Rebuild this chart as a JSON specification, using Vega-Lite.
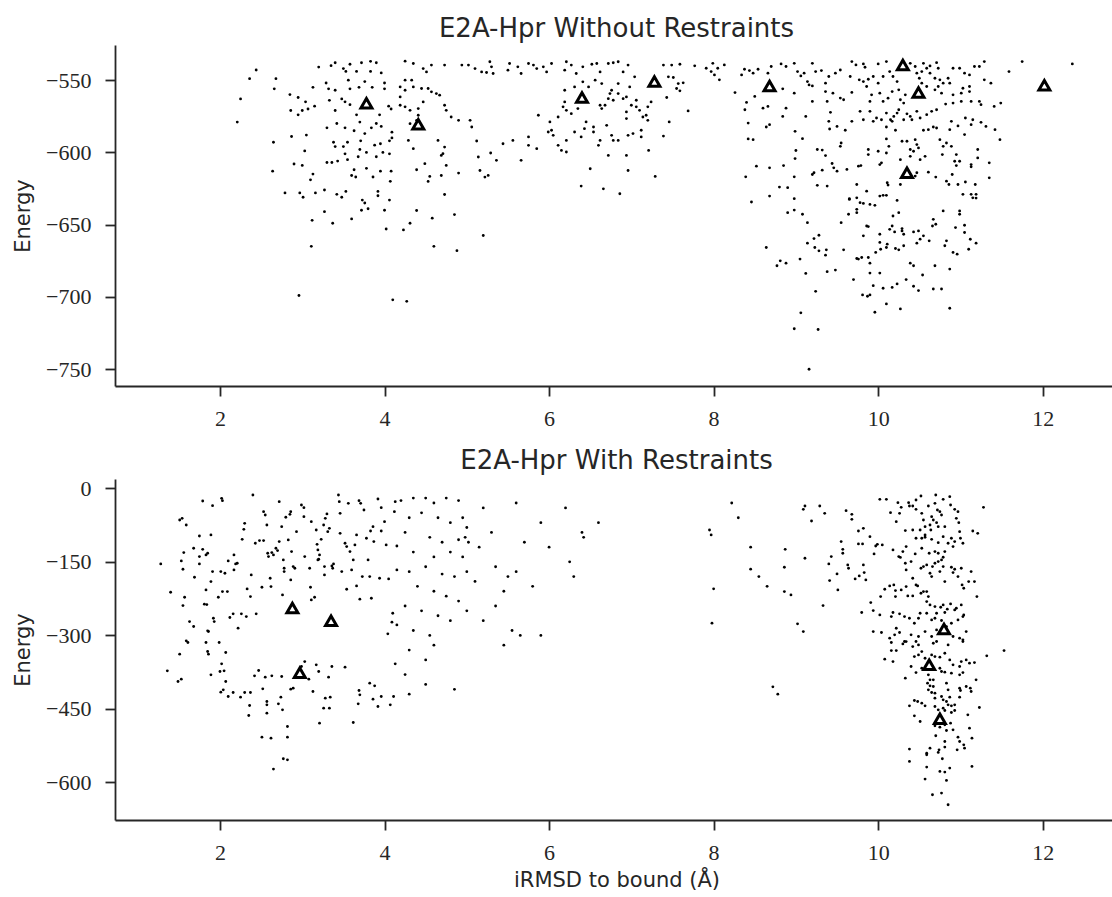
{
"$schema": "https://vega.github.io/schema/vega-lite/v6.json",
"background": "white",
"padding": {"left": 12, "top": 16, "right": 0, "bottom": 0},
"config": {
 "view": {"stroke": null},
 "axis": {"grid": false, "domainColor": "#262626", "domainWidth": 1.8, "tickColor": "#262626", "tickWidth": 1.8, "tickSize": 10, "labelFont": "Liberation Serif", "labelFontSize": 22, "labelColor": "#262626", "labelPadding": 14, "titleFont": "DejaVu Sans", "titleFontSize": 21, "titleFontWeight": "normal", "titleColor": "#262626", "titlePadding": 12},
 "axisX": {"labelPadding": 12, "format": "d"},
 "title": {"font": "DejaVu Sans", "fontSize": 26, "fontWeight": "normal", "color": "#262626", "anchor": "middle", "frame": "group", "offset": 3}
},
"spacing": 19,
"datasets": {
"a": [
{"x":2.44,"y":-543},{"x":2.36,"y":-549},{"x":2.25,"y":-563},{"x":2.21,"y":-579},{"x":2.68,"y":-549},{"x":2.66,"y":-556},{"x":2.85,"y":-560},{"x":2.95,"y":-562},{"x":3.04,"y":-565},{"x":2.86,"y":-571},{"x":2.95,"y":-574},{"x":3.0,"y":-571},{"x":3.07,"y":-570},{"x":3.15,"y":-568},{"x":3.13,"y":-555},{"x":3.20,"y":-541},{"x":3.35,"y":-540},{"x":3.40,"y":-538},{"x":3.50,"y":-542},{"x":3.58,"y":-539},{"x":3.72,"y":-538},{"x":3.83,"y":-537},{"x":3.90,"y":-538},{"x":3.53,"y":-544},{"x":3.66,"y":-544},{"x":3.83,"y":-544},{"x":3.96,"y":-545},{"x":3.29,"y":-552},{"x":3.32,"y":-556},{"x":3.40,"y":-557},{"x":3.56,"y":-550},{"x":3.76,"y":-551},{"x":3.58,"y":-556},{"x":3.69,"y":-555},{"x":4.0,"y":-552},{"x":4.0,"y":-556},{"x":3.85,"y":-555},{"x":3.33,"y":-564},{"x":3.48,"y":-563},{"x":3.52,"y":-565},{"x":3.58,"y":-567},{"x":3.40,"y":-571},{"x":3.66,"y":-574},{"x":3.94,"y":-574},{"x":4.05,"y":-568},{"x":4.08,"y":-570},{"x":3.70,"y":-579},{"x":3.42,"y":-580},{"x":3.30,"y":-583},{"x":3.52,"y":-583},{"x":3.63,"y":-585},{"x":3.84,"y":-583},{"x":3.90,"y":-580},{"x":3.96,"y":-582},{"x":3.76,"y":-587},{"x":4.09,"y":-586},{"x":2.87,"y":-589},{"x":3.05,"y":-588},{"x":3.38,"y":-593},{"x":3.55,"y":-593},{"x":3.71,"y":-592},{"x":4.06,"y":-592},{"x":4.09,"y":-590},{"x":2.65,"y":-593},{"x":3.40,"y":-596},{"x":3.50,"y":-596},{"x":3.88,"y":-595},{"x":3.95,"y":-594},{"x":3.03,"y":-599},{"x":3.52,"y":-601},{"x":3.70,"y":-598},{"x":3.78,"y":-600},{"x":3.98,"y":-600},{"x":4.06,"y":-601},{"x":3.55,"y":-605},{"x":3.68,"y":-603},{"x":3.90,"y":-603},{"x":3.36,"y":-607},{"x":3.30,"y":-607},{"x":2.90,"y":-608},{"x":3.0,"y":-609},{"x":3.43,"y":-606},{"x":3.63,"y":-612},{"x":3.78,"y":-611},{"x":3.95,"y":-613},{"x":3.86,"y":-617},{"x":2.64,"y":-613},{"x":3.13,"y":-615},{"x":3.60,"y":-616},{"x":3.65,"y":-617},{"x":3.10,"y":-619},{"x":4.08,"y":-613},{"x":4.07,"y":-620},{"x":2.79,"y":-628},{"x":2.97,"y":-628},{"x":3.01,"y":-631},{"x":3.16,"y":-628},{"x":3.27,"y":-626},{"x":3.42,"y":-629},{"x":3.53,"y":-627},{"x":3.48,"y":-631},{"x":3.73,"y":-633},{"x":3.76,"y":-635},{"x":3.92,"y":-627},{"x":3.92,"y":-630},{"x":4.06,"y":-633},{"x":4.0,"y":-640},{"x":3.72,"y":-640},{"x":3.80,"y":-639},{"x":3.27,"y":-641},{"x":3.12,"y":-647},{"x":3.37,"y":-649},{"x":3.60,"y":-646},{"x":4.02,"y":-653},{"x":3.11,"y":-665},{"x":2.96,"y":-699},{"x":4.10,"y":-702},{"x":4.27,"y":-703},
{"x":4.25,"y":-536.9},{"x":4.35,"y":-538.5},{"x":4.47,"y":-542},{"x":4.51,"y":-544.3},{"x":4.57,"y":-539.6},{"x":4.73,"y":-539.6},{"x":4.94,"y":-539.6},{"x":5.02,"y":-539.6},{"x":5.10,"y":-542},{"x":5.28,"y":-537.3},{"x":5.30,"y":-540.8},{"x":5.32,"y":-545.4},{"x":5.18,"y":-544.3},{"x":5.24,"y":-544.7},{"x":5.52,"y":-538.5},{"x":5.50,"y":-543.1},{"x":5.62,"y":-540.8},{"x":5.66,"y":-545.4},{"x":5.75,"y":-538.5},{"x":5.81,"y":-539.6},{"x":5.85,"y":-542},{"x":5.93,"y":-540.8},{"x":5.97,"y":-544.3},{"x":6.03,"y":-538.5},{"x":6.19,"y":-543.1},{"x":6.21,"y":-537.3},{"x":6.27,"y":-539.6},{"x":6.33,"y":-545.4},{"x":6.41,"y":-540.8},{"x":6.52,"y":-539},{"x":6.58,"y":-538.5},{"x":6.62,"y":-544.3},{"x":6.72,"y":-538.5},{"x":6.78,"y":-538},{"x":6.84,"y":-537.3},{"x":6.90,"y":-544.3},{"x":6.96,"y":-539.6},{"x":7.04,"y":-547.7},{"x":7.39,"y":-539.6},{"x":7.49,"y":-539.6},{"x":7.59,"y":-539},{"x":7.77,"y":-540.1},{"x":7.45,"y":-547.7},{"x":7.51,"y":-548.2},{"x":7.57,"y":-552.4},{"x":7.63,"y":-551.9},{"x":7.55,"y":-555.8},{"x":7.59,"y":-557.4},{"x":7.43,"y":-562},{"x":7.69,"y":-571.3},{"x":7.46,"y":-578.9},{"x":7.39,"y":-588.7},{"x":7.29,"y":-616.6},{"x":7.21,"y":-598.6},{"x":7.12,"y":-584.7},{"x":7.12,"y":-589.3},{"x":7.02,"y":-587},{"x":6.96,"y":-588.2},{"x":6.94,"y":-602.1},{"x":6.96,"y":-612.5},{"x":6.84,"y":-591.7},{"x":6.78,"y":-591.7},{"x":6.76,"y":-588.2},{"x":6.70,"y":-581.3},{"x":6.62,"y":-591.7},{"x":6.60,"y":-595.1},{"x":6.72,"y":-602.1},{"x":6.66,"y":-625.2},{"x":6.86,"y":-628.6},{"x":6.50,"y":-611.3},{"x":6.39,"y":-623.3},{"x":6.62,"y":-567.4},{"x":6.64,"y":-569.7},{"x":6.68,"y":-567.4},{"x":6.72,"y":-562.8},{"x":6.78,"y":-563.9},{"x":6.74,"y":-559.3},{"x":6.84,"y":-559.3},{"x":6.90,"y":-562.8},{"x":6.94,"y":-561.6},{"x":7.0,"y":-567.4},{"x":7.06,"y":-568.5},{"x":7.10,"y":-570.9},{"x":6.94,"y":-572},{"x":6.94,"y":-576.6},{"x":7.14,"y":-575.5},{"x":7.18,"y":-574.3},{"x":7.20,"y":-577.8},{"x":7.20,"y":-568.5},{"x":7.24,"y":-565.1},{"x":7.06,"y":-563.9},{"x":6.98,"y":-554.7},{"x":6.84,"y":-552.4},{"x":6.76,"y":-557},{"x":6.64,"y":-552.4},{"x":6.56,"y":-550},{"x":6.48,"y":-554.7},{"x":6.41,"y":-551.2},{"x":6.31,"y":-554.7},{"x":6.19,"y":-557},{"x":6.19,"y":-565.1},{"x":6.17,"y":-568.5},{"x":6.21,"y":-570.9},{"x":6.27,"y":-573.2},{"x":6.35,"y":-569.7},{"x":6.11,"y":-575.5},{"x":6.01,"y":-578.9},{"x":6.03,"y":-584.7},{"x":6.05,"y":-588.2},{"x":5.99,"y":-585.9},{"x":6.11,"y":-595.1},{"x":6.15,"y":-598.6},{"x":6.21,"y":-599.7},{"x":6.21,"y":-591.7},{"x":6.31,"y":-585.9},{"x":6.45,"y":-578.9},{"x":6.43,"y":-583.6},{"x":6.54,"y":-582.4},{"x":6.54,"y":-585.9},{"x":6.39,"y":-589.3},{"x":5.87,"y":-574.3},{"x":5.75,"y":-589.3},{"x":5.75,"y":-595.1},{"x":5.85,"y":-597.4},{"x":5.56,"y":-591.7},{"x":5.44,"y":-594},{"x":5.66,"y":-605.5},{"x":5.36,"y":-605.5},{"x":5.29,"y":-600.4},{"x":5.14,"y":-603.2},{"x":5.16,"y":-612.5},{"x":5.22,"y":-617.1},{"x":5.26,"y":-615.9},{"x":5.12,"y":-592.1},{"x":4.90,"y":-614.3},{"x":4.85,"y":-643},{"x":5.20,"y":-657.5},{"x":4.73,"y":-629.1},{"x":4.75,"y":-609},{"x":4.71,"y":-600.9},{"x":4.73,"y":-596.3},{"x":4.65,"y":-591.7},{"x":4.69,"y":-602.1},{"x":4.69,"y":-616},{"x":4.55,"y":-616.6},{"x":4.53,"y":-620.1},{"x":4.49,"y":-607.8},{"x":4.39,"y":-612},{"x":4.35,"y":-597.4},{"x":4.29,"y":-591.7},{"x":5.06,"y":-582.4},{"x":5.04,"y":-577.8},{"x":4.90,"y":-577.8},{"x":4.81,"y":-575.5},{"x":4.75,"y":-570.9},{"x":4.73,"y":-567.4},{"x":4.67,"y":-560.4},{"x":4.63,"y":-559.3},{"x":4.57,"y":-558.1},{"x":4.53,"y":-555.8},{"x":4.47,"y":-565.1},{"x":4.41,"y":-569.7},{"x":4.39,"y":-577.8},{"x":4.31,"y":-580.1},{"x":4.25,"y":-550},{"x":4.33,"y":-550},{"x":4.19,"y":-554.7},{"x":4.25,"y":-557},{"x":4.35,"y":-554.7},{"x":4.45,"y":-555.8},{"x":4.19,"y":-561.6},{"x":4.19,"y":-567.4},{"x":4.25,"y":-568.5},{"x":4.31,"y":-570.9},{"x":4.41,"y":-574.3},{"x":4.58,"y":-645.5},{"x":4.39,"y":-640.2},{"x":4.31,"y":-649},{"x":4.23,"y":-653.6},{"x":4.6,"y":-665},{"x":4.88,"y":-668},
{"x":7.91,"y":-541.8},{"x":7.99,"y":-538.4},{"x":7.97,"y":-544.1},{"x":8.01,"y":-546.4},{"x":8.05,"y":-541.8},{"x":8.13,"y":-539.5},{"x":8.07,"y":-549.8},{"x":8.26,"y":-558.6},{"x":8.34,"y":-546.4},{"x":8.375,"y":-542.5},{"x":8.435,"y":-543.4},{"x":8.48,"y":-545.2},{"x":8.54,"y":-542.5},{"x":8.66,"y":-545.2},{"x":8.70,"y":-540.6},{"x":8.82,"y":-538.8},{"x":8.88,"y":-540.6},{"x":8.98,"y":-538.4},{"x":8.84,"y":-556},{"x":8.98,"y":-559},{"x":8.40,"y":-565.4},{"x":8.38,"y":-570.5},{"x":8.50,"y":-561.3},{"x":8.60,"y":-569.4},{"x":8.66,"y":-568.2},{"x":8.68,"y":-580.8},{"x":8.64,"y":-582.4},{"x":8.88,"y":-569.4},{"x":8.84,"y":-575.1},{"x":8.42,"y":-579.7},{"x":8.42,"y":-590.7},{"x":8.48,"y":-591.2},{"x":8.99,"y":-585.4},{"x":9.08,"y":-590.5},{"x":9.12,"y":-575.1},{"x":9.20,"y":-538.4},{"x":9.02,"y":-544.1},{"x":9.06,"y":-547.1},{"x":9.10,"y":-545.2},{"x":9.14,"y":-551},{"x":9.16,"y":-553.3},{"x":9.20,"y":-554},{"x":9.24,"y":-544.1},{"x":9.31,"y":-543.4},{"x":9.36,"y":-552.1},{"x":9.40,"y":-547.5},{"x":9.48,"y":-545.2},{"x":9.54,"y":-543},{"x":9.45,"y":-559},{"x":9.36,"y":-557.9},{"x":9.38,"y":-564.7},{"x":9.20,"y":-564.7},{"x":9.42,"y":-572.3},{"x":9.40,"y":-578.5},{"x":9.41,"y":-583.8},{"x":9.50,"y":-582},{"x":9.60,"y":-584.7},{"x":9.54,"y":-562.4},{"x":9.58,"y":-563.6},{"x":9.68,"y":-558.5},{"x":9.66,"y":-547.5},{"x":9.68,"y":-537.2},{"x":9.73,"y":-539.5},{"x":9.82,"y":-538.8},{"x":9.84,"y":-541.1},{"x":9.77,"y":-549.8},{"x":9.82,"y":-551},{"x":9.88,"y":-549.4},{"x":9.86,"y":-554.4},{"x":9.94,"y":-547.5},{"x":10.0,"y":-538.8},{"x":10.06,"y":-547.5},{"x":10.10,"y":-537.2},{"x":10.14,"y":-544.1},{"x":10.18,"y":-547.5},{"x":10.23,"y":-551},{"x":10.0,"y":-552.1},{"x":9.92,"y":-560.2},{"x":9.90,"y":-564.7},{"x":10.02,"y":-559},{"x":10.06,"y":-564.7},{"x":10.12,"y":-562.5},{"x":10.17,"y":-557.9},{"x":10.25,"y":-556.7},{"x":10.27,"y":-563.6},{"x":10.33,"y":-560.2},{"x":10.31,"y":-565.9},{"x":10.39,"y":-538.4},{"x":10.45,"y":-540.6},{"x":10.47,"y":-545.2},{"x":10.55,"y":-538.4},{"x":10.53,"y":-544.1},{"x":10.59,"y":-541.8},{"x":10.63,"y":-540.2},{"x":10.71,"y":-537.9},{"x":10.73,"y":-541.8},{"x":10.63,"y":-545.2},{"x":10.50,"y":-548.7},{"x":10.53,"y":-552.1},{"x":10.59,"y":-554.4},{"x":10.69,"y":-548.7},{"x":10.75,"y":-549.8},{"x":10.79,"y":-552.1},{"x":10.85,"y":-548.7},{"x":10.91,"y":-541.8},{"x":10.99,"y":-541.8},{"x":11.05,"y":-545.2},{"x":11.11,"y":-546.4},{"x":11.17,"y":-540.6},{"x":11.23,"y":-540.6},{"x":11.29,"y":-537.2},{"x":10.73,"y":-554.4},{"x":10.69,"y":-556.7},{"x":10.77,"y":-559},{"x":10.87,"y":-552.1},{"x":10.91,"y":-560.2},{"x":11.01,"y":-559},{"x":11.03,"y":-555.6},{"x":11.11,"y":-554.4},{"x":11.11,"y":-557.9},{"x":11.29,"y":-549.8},{"x":11.37,"y":-552.1},{"x":11.13,"y":-564.7},{"x":11.23,"y":-564.7},{"x":11.25,"y":-567},{"x":11.41,"y":-568.2},{"x":11.49,"y":-565.9},{"x":10.82,"y":-566.6},{"x":10.91,"y":-565.9},{"x":11.01,"y":-564.7},{"x":10.71,"y":-570.5},{"x":10.65,"y":-571.6},{"x":10.59,"y":-573.9},{"x":10.51,"y":-576.2},{"x":10.47,"y":-571.6},{"x":10.41,"y":-577.4},{"x":10.39,"y":-575.1},{"x":10.35,"y":-573.3},{"x":10.31,"y":-577.4},{"x":10.23,"y":-572.8},{"x":10.25,"y":-570.5},{"x":10.19,"y":-575.1},{"x":10.15,"y":-577.4},{"x":10.10,"y":-572.8},{"x":10.17,"y":-578.5},{"x":10.04,"y":-577.4},{"x":9.98,"y":-576.2},{"x":9.94,"y":-578.5},{"x":9.82,"y":-577.4},{"x":9.78,"y":-571.6},{"x":9.68,"y":-578.5},{"x":9.90,"y":-571.6},{"x":10.10,"y":-582.4},{"x":10.10,"y":-590.7},{"x":10.21,"y":-584.7},{"x":10.29,"y":-592.3},{"x":10.35,"y":-592.3},{"x":10.39,"y":-598},{"x":10.43,"y":-599.2},{"x":10.47,"y":-594.6},{"x":10.45,"y":-591.2},{"x":10.49,"y":-596.9},{"x":10.55,"y":-584.7},{"x":10.61,"y":-584.3},{"x":10.67,"y":-582.4},{"x":10.71,"y":-583.1},{"x":10.75,"y":-591.2},{"x":10.79,"y":-595.8},{"x":10.83,"y":-593.5},{"x":10.89,"y":-595.8},{"x":10.78,"y":-601.5},{"x":10.57,"y":-602.7},{"x":10.51,"y":-605},{"x":10.39,"y":-602.7},{"x":10.27,"y":-605},{"x":10.13,"y":-595.8},{"x":10.10,"y":-600.4},{"x":10.02,"y":-608.4},{"x":10.04,"y":-607.2},{"x":9.88,"y":-598},{"x":9.88,"y":-601.5},{"x":9.76,"y":-609.5},{"x":9.79,"y":-609.1},{"x":10.0,"y":-599.2},{"x":10.11,"y":-621},{"x":10.12,"y":-622.6},{"x":10.27,"y":-622.2},{"x":10.23,"y":-633.2},{"x":10.02,"y":-630.2},{"x":10.06,"y":-629.7},{"x":10.10,"y":-629.7},{"x":9.74,"y":-622.2},{"x":9.86,"y":-626.8},{"x":9.74,"y":-631.4},{"x":9.78,"y":-634.8},{"x":9.82,"y":-635.3},{"x":9.90,"y":-636},{"x":9.96,"y":-636.6},{"x":9.65,"y":-632},{"x":9.74,"y":-639.4},{"x":9.64,"y":-642.8},{"x":9.86,"y":-650.9},{"x":9.82,"y":-657.7},{"x":10.02,"y":-656.6},{"x":10.17,"y":-650.9},{"x":10.14,"y":-653.2},{"x":10.20,"y":-655},{"x":10.29,"y":-654.3},{"x":10.31,"y":-656.6},{"x":10.43,"y":-655},{"x":10.49,"y":-654.3},{"x":10.55,"y":-657.7},{"x":10.51,"y":-660},{"x":10.47,"y":-662.8},{"x":10.62,"y":-661.2},{"x":10.67,"y":-646.3},{"x":10.70,"y":-649.7},{"x":10.66,"y":-650.9},{"x":10.79,"y":-640.5},{"x":10.99,"y":-640.5},{"x":10.99,"y":-642.8},{"x":11.03,"y":-629},{"x":11.13,"y":-629},{"x":11.19,"y":-629},{"x":11.15,"y":-631.4},{"x":11.19,"y":-631.6},{"x":10.94,"y":-652},{"x":11.05,"y":-650.4},{"x":11.05,"y":-655.4},{"x":11.12,"y":-660.1},{"x":11.19,"y":-662.8},{"x":11.10,"y":-667},{"x":10.96,"y":-670.4},{"x":10.91,"y":-669.2},{"x":10.83,"y":-661.2},{"x":10.81,"y":-664.6},{"x":10.87,"y":-680.7},{"x":10.69,"y":-678.4},{"x":10.54,"y":-684.8},{"x":10.67,"y":-694.5},{"x":10.77,"y":-694.5},{"x":10.87,"y":-707.8},{"x":10.39,"y":-676.6},{"x":10.43,"y":-678.4},{"x":10.34,"y":-688},{"x":10.43,"y":-692.6},{"x":10.49,"y":-695.6},{"x":10.23,"y":-691},{"x":10.17,"y":-693.4},{"x":10.06,"y":-694},{"x":9.94,"y":-692.2},{"x":9.90,"y":-698.6},{"x":9.87,"y":-699.5},{"x":9.81,"y":-698.6},{"x":10.10,"y":-704.8},{"x":10.27,"y":-708.3},{"x":9.96,"y":-710.6},{"x":10.02,"y":-683.5},{"x":9.90,"y":-683.5},{"x":9.70,"y":-688},{"x":9.76,"y":-673.8},{"x":9.74,"y":-673.4},{"x":9.80,"y":-672.7},{"x":9.88,"y":-672.7},{"x":9.90,"y":-676.6},{"x":9.97,"y":-669.2},{"x":10.03,"y":-667},{"x":10.10,"y":-665.8},{"x":10.11,"y":-663.5},{"x":10.02,"y":-662.3},{"x":10.21,"y":-666.5},{"x":10.25,"y":-667.4},{"x":10.31,"y":-664.6},{"x":9.58,"y":-667.4},{"x":9.37,"y":-667.4},{"x":9.36,"y":-671.1},{"x":9.28,"y":-668.1},{"x":9.23,"y":-665.8},{"x":9.22,"y":-659.6},{"x":9.28,"y":-657.3},{"x":9.14,"y":-662.8},{"x":9.05,"y":-673.8},{"x":8.88,"y":-676.6},{"x":8.81,"y":-675},{"x":8.77,"y":-678.4},{"x":9.12,"y":-683.7},{"x":9.24,"y":-696.1},{"x":9.06,"y":-711},{"x":8.98,"y":-722},{"x":9.27,"y":-722.5},{"x":9.16,"y":-750},{"x":9.38,"y":-682.5},{"x":9.48,"y":-681.4},{"x":8.64,"y":-665.8},{"x":9.14,"y":-648.6},{"x":8.98,"y":-639.9},{"x":8.90,"y":-641.7},{"x":9.08,"y":-642.8},{"x":8.98,"y":-632},{"x":8.90,"y":-624.4},{"x":8.80,"y":-624},{"x":8.68,"y":-630.2},{"x":8.46,"y":-634.3},{"x":8.39,"y":-616.9},{"x":8.52,"y":-609.5},{"x":8.68,"y":-610.7},{"x":8.85,"y":-609.1},{"x":8.98,"y":-616.9},{"x":8.99,"y":-604.3},{"x":9.0,"y":-598.7},{"x":9.20,"y":-615.3},{"x":9.22,"y":-614.1},{"x":9.26,"y":-622.8},{"x":9.38,"y":-623.3},{"x":9.32,"y":-612.3},{"x":9.36,"y":-602.2},{"x":9.26,"y":-598},{"x":9.32,"y":-598.4},{"x":9.44,"y":-607.7},{"x":9.46,"y":-610.7},{"x":9.50,"y":-613},{"x":9.62,"y":-611.8},{"x":9.55,"y":-593.5},{"x":9.54,"y":-595.8},{"x":9.65,"y":-632.5},{"x":9.74,"y":-641.7},{"x":9.55,"y":-648.6},{"x":9.88,"y":-651.3},{"x":10.18,"y":-644},{"x":10.25,"y":-641.7},{"x":10.29,"y":-652.7},{"x":10.95,"y":-601.5},{"x":10.93,"y":-606.1},{"x":10.95,"y":-609.1},{"x":10.99,"y":-606.1},{"x":11.13,"y":-608.4},{"x":11.13,"y":-610},{"x":11.21,"y":-603.8},{"x":11.21,"y":-598},{"x":11.35,"y":-607.2},{"x":11.35,"y":-617.6},{"x":11.18,"y":-622.2},{"x":11.06,"y":-620.5},{"x":10.97,"y":-622.2},{"x":10.83,"y":-619.9},{"x":10.86,"y":-622.2},{"x":10.90,"y":-615.3},{"x":10.70,"y":-617.1},{"x":10.61,"y":-613.7},{"x":10.47,"y":-614.1},{"x":10.45,"y":-616.4},{"x":11.15,"y":-577.4},{"x":11.13,"y":-580.8},{"x":11.25,"y":-579.2},{"x":11.31,"y":-582},{"x":11.42,"y":-584.3},{"x":11.48,"y":-591.2},{"x":11.05,"y":-587.7},{"x":10.97,"y":-581.7},{"x":10.89,"y":-578.5},{"x":10.87,"y":-584.3},{"x":11.06,"y":-576.2},{"x":11.59,"y":-544.1},{"x":11.75,"y":-537.2},{"x":12.36,"y":-538.8}
],
"aT": [{"x":3.78,"y":-566},{"x":4.41,"y":-580.5},{"x":6.40,"y":-562},{"x":7.28,"y":-551},{"x":8.68,"y":-554},{"x":10.30,"y":-539.5},{"x":10.49,"y":-558.5},{"x":10.35,"y":-614},{"x":12.02,"y":-553.5}],
"b": [
{"x":1.28,"y":-154.2},{"x":1.40,"y":-212},{"x":1.51,"y":-64.6},{"x":1.54,"y":-61.2},{"x":1.59,"y":-74.8},{"x":1.53,"y":-148.1},{"x":1.55,"y":-165.1},{"x":1.56,"y":-131.1},{"x":1.57,"y":-222.2},{"x":1.55,"y":-239.2},{"x":1.63,"y":-271.8},{"x":1.68,"y":-281.9},{"x":1.59,"y":-311.2},{"x":1.61,"y":-314.6},{"x":1.51,"y":-338.3},{"x":1.69,"y":-181.4},{"x":1.68,"y":-122.3},{"x":1.75,"y":-97.2},{"x":1.79,"y":-25.9},{"x":1.75,"y":-139.3},{"x":1.75,"y":-154.2},{"x":1.79,"y":-124.4},{"x":1.83,"y":-135.9},{"x":1.85,"y":-132.5},{"x":1.83,"y":-207.2},{"x":1.81,"y":-236.4},{"x":1.84,"y":-237.1},{"x":1.85,"y":-290.8},{"x":1.86,"y":-292.1},{"x":1.83,"y":-314.6},{"x":1.85,"y":-332.9},{"x":1.86,"y":-338.3},{"x":1.91,"y":-35.4},{"x":1.89,"y":-95.1},{"x":1.91,"y":-169.9},{"x":1.89,"y":-190.3},{"x":1.92,"y":-265},{"x":1.93,"y":-271.8},{"x":1.98,"y":-222.2},{"x":1.99,"y":-314.6},{"x":2.01,"y":-169.9},{"x":2.02,"y":-20.4},{"x":2.03,"y":-25.2},{"x":2.03,"y":-210.6},{"x":2.07,"y":-334.9},{"x":2.06,"y":-173.3},{"x":2.09,"y":-210.6},{"x":2.10,"y":-148.1},{"x":2.12,"y":-263.6},{"x":2.16,"y":-256.1},{"x":2.19,"y":-154.2},{"x":2.21,"y":-152.9},{"x":2.17,"y":-166.5},{"x":2.17,"y":-135.9},{"x":2.22,"y":-285.3},{"x":2.26,"y":-256.1},{"x":2.27,"y":-104},{"x":2.30,"y":-71.4},{"x":2.29,"y":-83.6},{"x":2.32,"y":-261.6},{"x":2.33,"y":-205.2},{"x":2.37,"y":-220.8},{"x":2.38,"y":-176.7},{"x":2.40,"y":-13.6},{"x":2.43,"y":-112.1},{"x":2.44,"y":-256.1},{"x":2.48,"y":-106.7},{"x":2.51,"y":-201.8},{"x":2.53,"y":-106.7},{"x":2.53,"y":-47.6},{"x":2.55,"y":-54.4},{"x":2.57,"y":-74.8},{"x":2.58,"y":-132.5},{"x":2.59,"y":-139.3},{"x":2.61,"y":-183.5},{"x":2.62,"y":-200.4},{"x":2.63,"y":-131.1},{"x":2.65,"y":-135.9},{"x":2.68,"y":-122.3},{"x":2.70,"y":-127.1},{"x":2.72,"y":-27.2},{"x":2.72,"y":-108.7},{"x":2.75,"y":-78.2},{"x":2.76,"y":-217.4},{"x":2.77,"y":-146.1},{"x":2.78,"y":-163.1},{"x":2.78,"y":-169.9},{"x":2.80,"y":-59.1},{"x":2.83,"y":-105.3},{"x":2.85,"y":-53},{"x":2.86,"y":-47.6},{"x":2.87,"y":-129.1},{"x":2.86,"y":-186.9},{"x":2.89,"y":-159.7},{"x":2.91,"y":-163.1},{"x":2.93,"y":-88.4},{"x":2.99,"y":-34},{"x":3.02,"y":-39.4},{"x":3.02,"y":-57.8},{"x":3.03,"y":-139.3},{"x":3.09,"y":-163.1},{"x":3.11,"y":-68},{"x":3.10,"y":-201.8},{"x":3.11,"y":-227.6},{"x":3.15,"y":-222.2},{"x":3.17,"y":-85},{"x":3.18,"y":-114.2},{"x":3.19,"y":-146.1},{"x":3.20,"y":-144.7},{"x":3.21,"y":-135.9},{"x":3.19,"y":-125.7},{"x":3.23,"y":-104},{"x":3.26,"y":-74.8},{"x":3.28,"y":-61.2},{"x":3.30,"y":-52.3},{"x":3.27,"y":-159.7},{"x":3.27,"y":-176.7},{"x":3.31,"y":-88.4},{"x":3.33,"y":-81.6},{"x":3.36,"y":-158.3},{"x":3.37,"y":-163.1},{"x":3.38,"y":-154.2},{"x":3.44,"y":-13.6},{"x":3.45,"y":-27.2},{"x":3.46,"y":-51},{"x":3.46,"y":-91.8},{"x":3.48,"y":-169.9},{"x":3.52,"y":-112.1},{"x":3.54,"y":-118.9},{"x":3.54,"y":-205.9},{"x":3.56,"y":-30.6},{"x":3.58,"y":-129.1},{"x":3.60,"y":-166.5},{"x":3.62,"y":-146.1},{"x":3.64,"y":-115.5},{"x":3.66,"y":-95.1},{"x":3.66,"y":-199.1},{"x":3.69,"y":-25.2},{"x":3.70,"y":-226.2},{"x":3.71,"y":-30.6},{"x":3.73,"y":-180.1},{"x":3.75,"y":-44.2},{"x":3.78,"y":-101.9},{"x":3.80,"y":-146.1},{"x":3.82,"y":-180.1},{"x":3.83,"y":-87},{"x":3.84,"y":-224.2},{"x":3.86,"y":-78.2},{"x":3.87,"y":-108.7},{"x":3.92,"y":-21.8},{"x":3.94,"y":-183.5},{"x":3.96,"y":-39.4},{"x":3.96,"y":-87},{"x":4.0,"y":-68},{"x":4.02,"y":-115.5},{"x":4.04,"y":-296.9},{"x":4.05,"y":-184.8},{"x":4.09,"y":-273.1},{"x":4.10,"y":-254.8},{"x":4.12,"y":-47.6},{"x":4.13,"y":-27.2},{"x":4.15,"y":-166.5},{"x":4.15,"y":-117.6},{"x":4.15,"y":-278.6},
{"x":1.36,"y":-372.4},{"x":1.49,"y":-394.1},{"x":1.53,"y":-389.4},{"x":1.89,"y":-380.5},{"x":2.0,"y":-373.7},{"x":2.02,"y":-358.1},{"x":2.05,"y":-372.4},{"x":2.07,"y":-394.1},{"x":2.01,"y":-415.8},{"x":2.04,"y":-411.1},{"x":2.10,"y":-424.7},{"x":2.16,"y":-416.5},{"x":2.25,"y":-426},{"x":2.30,"y":-416.5},{"x":2.37,"y":-416.5},{"x":2.36,"y":-443},{"x":2.35,"y":-463.4},{"x":2.42,"y":-382.6},{"x":2.47,"y":-371.7},{"x":2.52,"y":-409},{"x":2.55,"y":-385.3},{"x":2.57,"y":-434.9},{"x":2.57,"y":-441.7},{"x":2.57,"y":-458.6},{"x":2.51,"y":-507.6},{"x":2.62,"y":-509.6},{"x":2.65,"y":-572.8},{"x":2.63,"y":-382.6},{"x":2.71,"y":-439.6},{"x":2.74,"y":-426},{"x":2.75,"y":-383.9},{"x":2.76,"y":-451.9},{"x":2.77,"y":-551.7},{"x":2.82,"y":-553.8},{"x":2.82,"y":-507.6},{"x":2.82,"y":-485.8},{"x":2.86,"y":-409.7},{"x":2.89,"y":-407.7},{"x":2.99,"y":-363.5},{"x":3.03,"y":-353.4},{"x":3.08,"y":-389.4},{"x":3.13,"y":-414.5},{"x":3.17,"y":-360.1},{"x":3.20,"y":-373.7},{"x":3.32,"y":-385.3},{"x":3.26,"y":-448.5},{"x":3.33,"y":-448.5},{"x":3.28,"y":-428.1},{"x":3.34,"y":-426},{"x":3.21,"y":-479},{"x":3.36,"y":-363.5},{"x":3.52,"y":-364.9},{"x":3.62,"y":-477.7},{"x":3.69,"y":-412.4},{"x":3.70,"y":-421.3},{"x":3.68,"y":-439.6},{"x":3.82,"y":-397.5},{"x":3.88,"y":-402.9},{"x":3.86,"y":-430.1},{"x":3.92,"y":-445.1},{"x":3.96,"y":-424.7},{"x":4.07,"y":-441.7},{"x":4.11,"y":-424.7},{"x":4.13,"y":-358.1},
{"x":4.2,"y":-25},{"x":4.35,"y":-20},{"x":4.5,"y":-20},{"x":4.6,"y":-30},{"x":4.75,"y":-20},{"x":4.9,"y":-25},{"x":4.45,"y":-50},{"x":4.3,"y":-60},{"x":4.65,"y":-60},{"x":4.8,"y":-70},{"x":4.95,"y":-60},{"x":5.0,"y":-80},{"x":4.25,"y":-90},{"x":4.55,"y":-100},{"x":4.7,"y":-110},{"x":4.9,"y":-105},{"x":4.98,"y":-100},{"x":5.02,"y":-110},{"x":4.35,"y":-130},{"x":4.6,"y":-140},{"x":4.8,"y":-130},{"x":4.95,"y":-140},{"x":4.3,"y":-170},{"x":4.5,"y":-160},{"x":4.7,"y":-175},{"x":4.85,"y":-180},{"x":5.0,"y":-170},{"x":4.4,"y":-200},{"x":4.6,"y":-210},{"x":4.75,"y":-220},{"x":4.9,"y":-230},{"x":4.25,"y":-240},{"x":4.45,"y":-250},{"x":4.65,"y":-260},{"x":4.8,"y":-270},{"x":4.35,"y":-290},{"x":4.55,"y":-300},{"x":4.3,"y":-330},{"x":4.6,"y":-320},{"x":4.5,"y":-350},{"x":4.25,"y":-380},{"x":4.5,"y":-400},{"x":4.85,"y":-410},{"x":4.3,"y":-420},{"x":5.2,"y":-40},{"x":5.3,"y":-90},{"x":5.15,"y":-120},{"x":5.35,"y":-160},{"x":5.1,"y":-190},{"x":5.5,"y":-180},{"x":5.6,"y":-170},{"x":5.45,"y":-210},{"x":5.35,"y":-240},{"x":5.55,"y":-290},{"x":5.45,"y":-320},{"x":5.65,"y":-300},{"x":5.2,"y":-270},{"x":5.0,"y":-250},{"x":5.8,"y":-200},{"x":5.9,"y":-300},{"x":6.2,"y":-40},{"x":6.25,"y":-150},{"x":6.4,"y":-90},{"x":6.42,"y":-100},{"x":6.6,"y":-70},{"x":6.3,"y":-180},{"x":5.7,"y":-110},{"x":5.9,"y":-70},{"x":5.6,"y":-30},{"x":6.0,"y":-120},
{"x":7.95,"y":-85},{"x":7.97,"y":-95},{"x":8.0,"y":-205},{"x":7.98,"y":-275},{"x":8.22,"y":-30},{"x":8.3,"y":-60},{"x":8.45,"y":-120},{"x":8.45,"y":-165},{"x":8.55,"y":-180},{"x":8.65,"y":-200},{"x":8.72,"y":-405},{"x":8.78,"y":-420},
{"x":9.09,"y":-42.9},{"x":9.11,"y":-36},{"x":9.29,"y":-36},{"x":9.35,"y":-51},{"x":9.19,"y":-66.6},{"x":9.61,"y":-45.6},{"x":9.68,"y":-53},{"x":9.68,"y":-63.2},{"x":10.02,"y":-22.5},{"x":10.10,"y":-22.5},{"x":10.15,"y":-49.6},{"x":10.22,"y":-68},{"x":10.24,"y":-29.3},{"x":10.26,"y":-51},{"x":10.28,"y":-38.8},{"x":10.37,"y":-29.3},{"x":10.38,"y":-36},{"x":10.42,"y":-36},{"x":10.46,"y":-42.9},{"x":10.46,"y":-23.8},{"x":10.52,"y":-15.7},{"x":10.53,"y":-51},{"x":10.55,"y":-64.6},{"x":10.61,"y":-36},{"x":10.65,"y":-57.8},{"x":10.69,"y":-30.6},{"x":10.70,"y":-13.6},{"x":10.72,"y":-44.2},{"x":10.75,"y":-47.6},{"x":10.77,"y":-54.4},{"x":10.79,"y":-22.5},{"x":10.87,"y":-17},{"x":10.88,"y":-34},{"x":10.93,"y":-42.9},{"x":10.97,"y":-47.6},{"x":10.95,"y":-61.2},{"x":10.98,"y":-70},{"x":11.28,"y":-38.8},{"x":10.57,"y":-78.2},{"x":10.63,"y":-74.8},{"x":10.67,"y":-64.6},{"x":10.71,"y":-70},{"x":10.73,"y":-78.2},{"x":10.81,"y":-78.2},{"x":10.64,"y":-85},{"x":10.42,"y":-85},{"x":10.33,"y":-86.3},{"x":10.51,"y":-85},{"x":10.46,"y":-101.9},{"x":10.53,"y":-101.9},{"x":10.57,"y":-99.9},{"x":10.57,"y":-95.1},{"x":10.65,"y":-104},{"x":10.73,"y":-110.8},{"x":10.79,"y":-98.6},{"x":10.85,"y":-112.1},{"x":10.89,"y":-101.9},{"x":10.93,"y":-108.7},{"x":10.99,"y":-88.4},{"x":11.0,"y":-101.9},{"x":11.03,"y":-112.1},{"x":11.15,"y":-87},{"x":11.21,"y":-91.8},{"x":10.91,"y":-118.9},{"x":10.81,"y":-129.1},{"x":10.73,"y":-132.5},{"x":10.69,"y":-129.1},{"x":10.62,"y":-132.5},{"x":10.53,"y":-122.3},{"x":10.45,"y":-133.9},{"x":10.34,"y":-118.9},{"x":10.30,"y":-129.1},{"x":10.18,"y":-125.7},{"x":9.99,"y":-114.2},{"x":9.97,"y":-117.6},{"x":10.05,"y":-115.5},{"x":9.90,"y":-98.6},{"x":9.82,"y":-81.6},{"x":9.76,"y":-87},{"x":9.81,"y":-113.5},{"x":9.76,"y":-113.5},{"x":9.55,"y":-108.7},{"x":9.57,"y":-124.4},{"x":9.57,"y":-132.5},{"x":9.43,"y":-139.3},{"x":9.40,"y":-154.2},{"x":9.50,"y":-174.6},{"x":9.63,"y":-156.3},{"x":9.64,"y":-163.1},{"x":9.82,"y":-156.3},{"x":9.83,"y":-171.9},{"x":9.77,"y":-178.7},{"x":9.72,"y":-184.8},{"x":9.85,"y":-186.9},{"x":9.95,"y":-133.9},{"x":10.25,"y":-139.3},{"x":10.27,"y":-141},{"x":10.33,"y":-152.9},{"x":10.34,"y":-166.5},{"x":10.40,"y":-149.5},{"x":10.42,"y":-183.5},{"x":10.46,"y":-197.1},{"x":10.52,"y":-163.1},{"x":10.55,"y":-159.7},{"x":10.59,"y":-156.3},{"x":10.63,"y":-173.3},{"x":10.65,"y":-180.1},{"x":10.66,"y":-159.7},{"x":10.69,"y":-152.9},{"x":10.73,"y":-149.5},{"x":10.77,"y":-146.1},{"x":10.79,"y":-140.7},{"x":10.79,"y":-159.7},{"x":10.75,"y":-169.9},{"x":10.81,"y":-190.3},{"x":10.89,"y":-161},{"x":10.91,"y":-171.9},{"x":10.93,"y":-165.1},{"x":10.97,"y":-180.1},{"x":11.01,"y":-163.1},{"x":11.02,"y":-197.1},{"x":11.04,"y":-203.8},{"x":11.10,"y":-190.3},{"x":11.13,"y":-169.9},{"x":11.17,"y":-190.3},{"x":11.20,"y":-220.8},{"x":8.87,"y":-124.4},{"x":8.86,"y":-161},{"x":9.11,"y":-142.7},{"x":8.94,"y":-217.4},{"x":8.86,"y":-210.6},{"x":9.33,"y":-239.2},{"x":9.51,"y":-207.2},{"x":9.41,"y":-188.2},{"x":9.80,"y":-253.4},{"x":9.91,"y":-233.1},{"x":9.94,"y":-249.4},{"x":10.02,"y":-258.2},{"x":10.03,"y":-220.8},{"x":10.08,"y":-205.9},{"x":10.14,"y":-199.1},{"x":10.19,"y":-197.1},{"x":10.21,"y":-208.6},{"x":10.21,"y":-220.8},{"x":10.28,"y":-207.2},{"x":10.34,"y":-200.4},{"x":10.36,"y":-219.5},{"x":10.42,"y":-219.5},{"x":10.48,"y":-199.1},{"x":10.52,"y":-214},{"x":10.55,"y":-210.6},{"x":10.59,"y":-210.6},{"x":10.61,"y":-220.8},{"x":10.59,"y":-231},{"x":10.63,"y":-237.8},{"x":10.69,"y":-241.2},{"x":10.71,"y":-254.8},{"x":10.76,"y":-242.6},{"x":10.79,"y":-237.8},{"x":10.81,"y":-253.4},{"x":10.84,"y":-246.6},{"x":10.88,"y":-235.8},{"x":10.93,"y":-248},{"x":10.95,"y":-244.6},{"x":11.01,"y":-237.8},{"x":11.04,"y":-258.2},{"x":11.03,"y":-261.6},{"x":10.97,"y":-268.4},{"x":10.89,"y":-275.2},{"x":10.83,"y":-282},{"x":10.77,"y":-269.7},{"x":10.69,"y":-265},{"x":10.65,"y":-268.4},{"x":10.59,"y":-254.8},{"x":10.51,"y":-254.8},{"x":10.49,"y":-265},{"x":10.44,"y":-275.2},{"x":10.38,"y":-265},{"x":10.32,"y":-261.6},{"x":10.26,"y":-256.1},{"x":10.18,"y":-253.4},{"x":10.16,"y":-261.6},{"x":10.22,"y":-285.4},{"x":10.26,"y":-294.2},{"x":10.20,"y":-298.9},{"x":10.14,"y":-305.7},{"x":10.04,"y":-294.2},{"x":9.94,"y":-292.2},{"x":10.40,"y":-298.9},{"x":10.49,"y":-302.3},{"x":10.57,"y":-292.2},{"x":10.65,"y":-302.3},{"x":10.71,"y":-288.8},{"x":10.91,"y":-302.3},{"x":10.99,"y":-305.7},{"x":11.03,"y":-309.1},{"x":10.32,"y":-312.5},{"x":10.46,"y":-312.5},{"x":10.71,"y":-312.5},{"x":9.02,"y":-276.5},{"x":9.09,"y":-292.2},{"x":11.07,"y":-292.2},
{"x":10.16,"y":-314.6},{"x":10.30,"y":-317.4},{"x":10.34,"y":-312.6},{"x":10.42,"y":-322.8},{"x":10.49,"y":-319.4},{"x":10.67,"y":-316},{"x":10.85,"y":-319.4},{"x":11.03,"y":-312.6},{"x":10.16,"y":-331},{"x":10.22,"y":-331},{"x":10.08,"y":-348.6},{"x":10.18,"y":-353.4},{"x":10.44,"y":-343.2},{"x":10.49,"y":-339.8},{"x":10.53,"y":-333},{"x":10.57,"y":-346.6},{"x":10.65,"y":-339.8},{"x":10.69,"y":-343.2},{"x":10.75,"y":-344.5},{"x":10.81,"y":-336.4},{"x":10.87,"y":-350},{"x":10.91,"y":-360.1},{"x":10.99,"y":-363.5},{"x":11.01,"y":-353.4},{"x":11.07,"y":-350},{"x":11.11,"y":-356.7},{"x":11.17,"y":-355.4},{"x":11.32,"y":-341.8},{"x":11.53,"y":-331},{"x":10.40,"y":-363.5},{"x":10.46,"y":-375.8},{"x":10.53,"y":-367},{"x":10.75,"y":-367},{"x":10.77,"y":-373.7},{"x":10.81,"y":-375},{"x":10.89,"y":-377.1},{"x":10.99,"y":-380.5},{"x":11.03,"y":-375.8},{"x":10.33,"y":-387.3},{"x":10.61,"y":-380.5},{"x":10.63,"y":-390.7},{"x":10.67,"y":-390.7},{"x":10.60,"y":-397.5},{"x":10.63,"y":-402.9},{"x":10.67,"y":-404.3},{"x":10.61,"y":-411.1},{"x":10.65,"y":-416.5},{"x":10.69,"y":-417.9},{"x":10.83,"y":-397.5},{"x":10.85,"y":-411.1},{"x":10.99,"y":-407.7},{"x":11.0,"y":-412.4},{"x":11.07,"y":-404.3},{"x":11.12,"y":-407.7},{"x":11.13,"y":-414.5},{"x":11.19,"y":-390.7},{"x":10.69,"y":-428.1},{"x":10.77,"y":-424.7},{"x":10.79,"y":-431.5},{"x":10.83,"y":-434.9},{"x":10.87,"y":-426},{"x":10.85,"y":-441.7},{"x":10.89,"y":-443.7},{"x":10.93,"y":-441.7},{"x":10.99,"y":-426},{"x":10.44,"y":-432.8},{"x":10.48,"y":-434.9},{"x":10.53,"y":-438.3},{"x":10.57,"y":-443.7},{"x":10.38,"y":-443.7},{"x":10.69,"y":-445.1},{"x":10.73,"y":-451.9},{"x":10.79,"y":-448.5},{"x":10.81,"y":-453.2},{"x":10.89,"y":-457.3},{"x":10.93,"y":-453.2},{"x":11.23,"y":-447.1},{"x":11.09,"y":-462},{"x":10.44,"y":-464.1},{"x":10.51,"y":-475.6},{"x":10.69,"y":-484.5},{"x":10.75,"y":-487.2},{"x":10.81,"y":-482.4},{"x":10.83,"y":-494},{"x":10.91,"y":-492.6},{"x":10.88,"y":-479},{"x":11.11,"y":-489.2},{"x":10.70,"y":-504.8},{"x":10.81,"y":-516.4},{"x":10.97,"y":-507.6},{"x":10.99,"y":-516.4},{"x":11.04,"y":-523.2},{"x":11.14,"y":-509.6},{"x":11.05,"y":-530},{"x":10.96,"y":-533.4},{"x":10.81,"y":-527.9},{"x":10.74,"y":-533.4},{"x":10.73,"y":-538.8},{"x":10.63,"y":-530},{"x":10.59,"y":-540.2},{"x":10.59,"y":-543.6},{"x":10.38,"y":-532},{"x":10.38,"y":-557.1},{"x":10.78,"y":-551.7},{"x":10.59,"y":-568.7},{"x":10.75,"y":-577.5},{"x":10.81,"y":-578.9},{"x":10.87,"y":-570.7},{"x":11.14,"y":-567.3},{"x":10.57,"y":-593.1},{"x":10.83,"y":-595.9},{"x":10.66,"y":-625.1},{"x":10.77,"y":-621.7},{"x":10.85,"y":-645.5}
],
"bT": [{"x":2.88,"y":-244},{"x":3.35,"y":-270},{"x":2.97,"y":-376},{"x":10.62,"y":-360},{"x":10.75,"y":-470},{"x":10.80,"y":-287}]
},
"vconcat": [
 {"title": "E2A-Hpr Without Restraints", "width": 1003, "height": 341,
  "layer": [
   {"data": {"name": "a"}, "mark": {"type": "point", "shape": "circle", "filled": true, "size": 8, "color": "black", "opacity": 1},
    "encoding": {
     "x": {"field": "x", "type": "quantitative", "scale": {"domain": [0.724, 12.915], "nice": false, "zero": false}, "axis": {"values": [2,4,6,8,10,12], "title": null}},
     "y": {"field": "y", "type": "quantitative", "scale": {"domain": [-761.6, -525.7], "nice": false, "zero": false}, "axis": {"values": [-750,-700,-650,-600,-550], "title": "Energy"}}}},
   {"data": {"name": "aT"}, "mark": {"type": "point", "shape": "triangle-up", "filled": false, "size": 120, "strokeWidth": 3, "color": "black", "opacity": 1},
    "encoding": {"x": {"field": "x", "type": "quantitative"}, "y": {"field": "y", "type": "quantitative"}}}
  ]},
 {"title": "E2A-Hpr With Restraints", "width": 1003, "height": 341,
  "layer": [
   {"data": {"name": "b"}, "mark": {"type": "point", "shape": "circle", "filled": true, "size": 8, "color": "black", "opacity": 1},
    "encoding": {
     "x": {"field": "x", "type": "quantitative", "scale": {"domain": [0.724, 12.915], "nice": false, "zero": false}, "axis": {"values": [2,4,6,8,10,12], "title": "iRMSD to bound (Å)", "titlePadding": 6}},
     "y": {"field": "y", "type": "quantitative", "scale": {"domain": [-676.6, 19], "nice": false, "zero": false}, "axis": {"values": [-600,-450,-300,-150,0], "title": "Energy"}}}},
   {"data": {"name": "bT"}, "mark": {"type": "point", "shape": "triangle-up", "filled": false, "size": 120, "strokeWidth": 3, "color": "black", "opacity": 1},
    "encoding": {"x": {"field": "x", "type": "quantitative"}, "y": {"field": "y", "type": "quantitative"}}}
  ]}
]
}
